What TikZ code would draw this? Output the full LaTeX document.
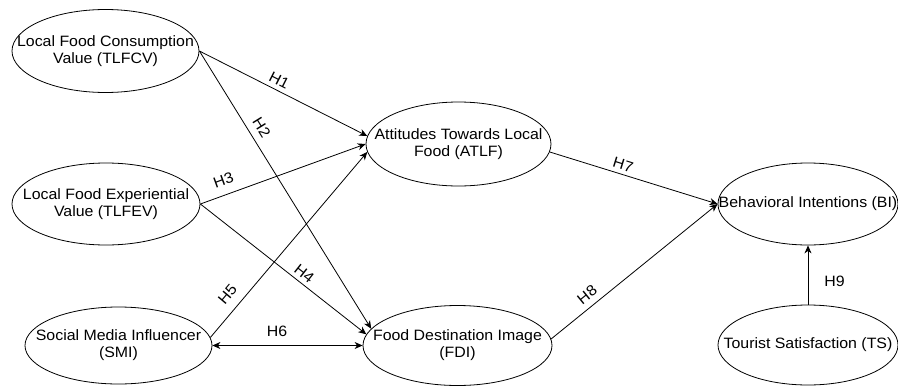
\documentclass[tikz,border=0pt]{standalone}
\usepackage{fontspec}
\setmainfont{Liberation Sans}[FakeStretch=1.06]
\usetikzlibrary{shapes.geometric,arrows.meta}
\begin{document}
\begin{tikzpicture}[x=1pt,y=-1pt,
  ell/.style={draw, ellipse, inner sep=0pt, line width=0.8pt},
  lbl/.style={align=center, font=\fontsize{15}{17}\selectfont},
  hyp/.style={font=\fontsize{15}{17}\selectfont, inner sep=2pt},
  arr/.style={line width=0.8pt, -{Stealth[length=8pt,width=7pt,inset=2.5pt]}},
  darr/.style={line width=0.8pt, {Stealth[length=8pt,width=7pt,inset=2.5pt]}-{Stealth[length=8pt,width=7pt,inset=2.5pt]}}]
\useasboundingbox (0,0) rectangle (898,386);
% constructs
\node[ell, minimum width=187pt, minimum height=83pt,
  label={[lbl]center:{Local Food Consumption\\Value (TLFCV)}}] (tlfcv) at (105.5,51) {};
\node[ell, minimum width=188pt, minimum height=82pt,
  label={[lbl]center:{Local Food Experiential\\Value (TLFEV)}}] (tlfev) at (106,204) {};
\node[ell, minimum width=187pt, minimum height=77pt,
  label={[lbl]center:{Social Media Influencer\\(SMI)}}] (smi) at (118.5,345.5) {};
\node[ell, minimum width=185pt, minimum height=84pt,
  label={[lbl]center:{Attitudes Towards Local\\Food (ATLF)}}] (atlf) at (458.5,144) {};
\node[ell, minimum width=189pt, minimum height=80pt,
  label={[lbl]center:{Food Destination Image\\(FDI)}}] (fdi) at (457.5,345.5) {};
\node[ell, minimum width=180pt, minimum height=82pt,
  label={[lbl]center:{Behavioral Intentions (BI)}}] (bi) at (808,204) {};
\node[ell, minimum width=180pt, minimum height=80pt,
  label={[lbl]center:{Tourist Satisfaction (TS)}}] (ts) at (808,345) {};
% paths
\draw[arr] (tlfcv.east) -- node[hyp, sloped, above=2pt, pos=0.45] {H1} (atlf.175);
\draw[arr] (tlfcv.east) -- node[hyp, sloped, above=5pt, pos=0.30] {H2} (fdi.169);
\draw[arr] (tlfev.east) -- node[hyp, sloped, above=7pt, pos=0.17] {H3} (atlf.west);
\draw[arr] (tlfev.east) -- node[hyp, sloped, above=2pt, pos=0.59] {H4} (fdi.173);
\draw[arr] (smi.5) -- node[hyp, sloped, above=7pt, pos=0.18] {H5} (atlf.185);
\draw[darr] (smi.east) -- node[hyp, above=6pt, pos=0.43] {H6} (fdi.west);
\draw[arr] (atlf.355) -- node[hyp, sloped, above=2pt, pos=0.42] {H7} (bi.west);
\draw[arr] (fdi.4) -- node[hyp, sloped, above=4pt, pos=0.26] {H8} (bi.west);
\draw[arr] (ts.north) -- node[hyp, right=14pt, pos=0.39] {H9} (bi.south);
\end{tikzpicture}
\end{document}
